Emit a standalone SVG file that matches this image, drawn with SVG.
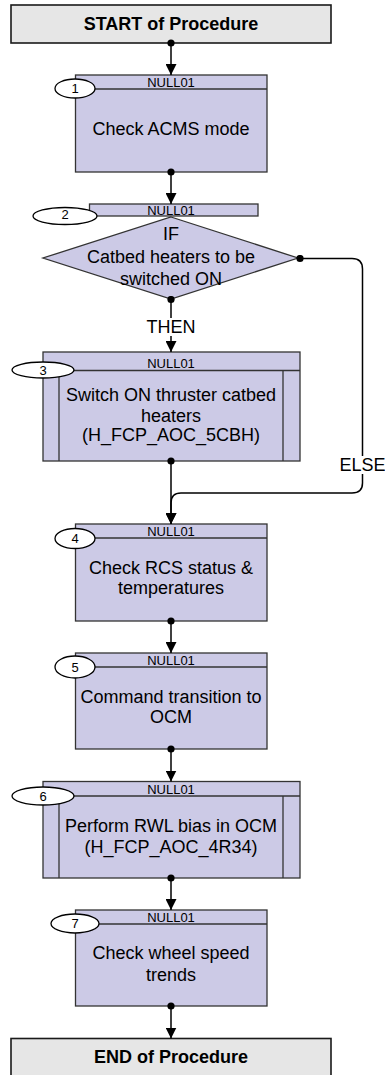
<svg xmlns="http://www.w3.org/2000/svg" width="385" height="1075" viewBox="0 0 385 1075">
<style>
text{font-family:"Liberation Sans",Arial,sans-serif;fill:#000}
.term{fill:#e6e6e6;stroke:#1a1a1a;stroke-width:1.6}
.tt{font-size:18px;font-weight:bold;text-anchor:middle}
.box{fill:#cccae6;stroke:#333;stroke-width:1.3}
.ln{fill:none;stroke:#333;stroke-width:1.3}
.hd{font-size:13px;text-anchor:middle}
.lab{font-size:18px;text-anchor:middle}
.ov{fill:#fff;stroke:#000;stroke-width:1.3}
.num{font-size:13px;text-anchor:middle}
.con{fill:none;stroke:#000;stroke-width:1.5;marker-start:url(#dot);marker-end:url(#arr)}
</style>
<defs>
<marker id="arr" markerUnits="userSpaceOnUse" markerWidth="11" markerHeight="11" refX="10" refY="5" orient="auto" viewBox="0 0 10 10"><path d="M0,0 L10,5 L0,10 z" fill="#000"/></marker>
<marker id="dot" markerUnits="userSpaceOnUse" markerWidth="8" markerHeight="8" refX="4" refY="4" viewBox="0 0 8 8"><circle cx="4" cy="4" r="3.6" fill="#000"/></marker>
</defs>
<rect width="385" height="1075" fill="#fff"/>

<g id="start">
<rect class="term" x="11" y="5" width="320" height="38"/>
<text class="tt" x="171" y="29.5">START of Procedure</text>
</g>

<g id="step1">
<rect class="box" x="75.5" y="75" width="191.5" height="97"/>
<line class="ln" x1="75.5" y1="89" x2="267" y2="89"/>
<text class="hd" x="171" y="87">NULL01</text>
<ellipse class="ov" cx="75" cy="88.5" rx="20" ry="9.5"/>
<text class="num" x="75" y="93">1</text>
<text class="lab" x="171" y="135">Check ACMS mode</text>
</g>

<g id="step2">
<polygon class="box" points="171,217 298,258 171,299 43,258"/>
<rect class="box" x="89.5" y="204" width="168.5" height="12"/>
<text class="hd" x="171" y="215">NULL01</text>
<ellipse class="ov" cx="65" cy="216" rx="32" ry="8.5"/>
<text class="num" x="65" y="219">2</text>
<text class="lab" x="171" y="240">IF</text>
<text class="lab" x="171" y="263">Catbed heaters to be</text>
<text class="lab" x="171" y="285">switched ON</text>
</g>

<g id="step3">
<rect class="box" x="43" y="352" width="257" height="109"/>
<line class="ln" x1="43" y1="370.5" x2="300" y2="370.5"/>
<line class="ln" x1="59" y1="370.5" x2="59" y2="461"/>
<line class="ln" x1="283" y1="370.5" x2="283" y2="461"/>
<text class="hd" x="171" y="368">NULL01</text>
<ellipse class="ov" cx="43" cy="370" rx="31" ry="8"/>
<text class="num" x="43" y="374.5">3</text>
<text class="lab" x="171" y="401">Switch ON thruster catbed</text>
<text class="lab" x="171" y="422">heaters</text>
<text class="lab" x="171" y="441">(H_FCP_AOC_5CBH)</text>
</g>

<g id="step4">
<rect class="box" x="75.5" y="524" width="191.5" height="97"/>
<line class="ln" x1="75.5" y1="538" x2="267" y2="538"/>
<text class="hd" x="171" y="536">NULL01</text>
<ellipse class="ov" cx="75" cy="538.5" rx="20" ry="10"/>
<text class="num" x="75" y="543">4</text>
<text class="lab" x="171" y="574">Check RCS status &amp;</text>
<text class="lab" x="171" y="594">temperatures</text>
</g>

<g id="step5">
<rect class="box" x="75.5" y="653" width="191.5" height="96"/>
<line class="ln" x1="75.5" y1="667" x2="267" y2="667"/>
<text class="hd" x="171" y="665">NULL01</text>
<ellipse class="ov" cx="75" cy="667" rx="20" ry="11"/>
<text class="num" x="75" y="671.5">5</text>
<text class="lab" x="171" y="703">Command transition to</text>
<text class="lab" x="171" y="723">OCM</text>
</g>

<g id="step6">
<rect class="box" x="43" y="781.5" width="257" height="96.5"/>
<line class="ln" x1="43" y1="796" x2="300" y2="796"/>
<line class="ln" x1="59" y1="796" x2="59" y2="878"/>
<line class="ln" x1="283" y1="796" x2="283" y2="878"/>
<text class="hd" x="171" y="794">NULL01</text>
<ellipse class="ov" cx="43" cy="796" rx="31" ry="9"/>
<text class="num" x="43" y="800.5">6</text>
<text class="lab" x="171" y="832">Perform RWL bias in OCM</text>
<text class="lab" x="171" y="853">(H_FCP_AOC_4R34)</text>
</g>

<g id="step7">
<rect class="box" x="75.5" y="910" width="191.5" height="96"/>
<line class="ln" x1="75.5" y1="924" x2="267" y2="924"/>
<text class="hd" x="171" y="922">NULL01</text>
<ellipse class="ov" cx="75" cy="923.5" rx="24" ry="9.5"/>
<text class="num" x="75" y="928">7</text>
<text class="lab" x="171" y="959">Check wheel speed</text>
<text class="lab" x="171" y="981">trends</text>
</g>

<g id="end">
<rect class="term" x="11" y="1038.5" width="320" height="45"/>
<text class="tt" x="171" y="1063">END of Procedure</text>
</g>

<g id="connectors">
<path class="con" d="M171,43 L171,75"/>
<path class="con" d="M171,172 L171,204"/>
<path class="con" d="M171,299.5 L171,352"/>
<path class="con" d="M300,258.5 L352,258.5 Q362.5,258.5 362.5,269 L362.5,483 Q362.5,493 352,493 L181,493 Q171,493 171,503 L171,524"/>
<path class="con" d="M171,461 L171,524"/>
<path class="con" d="M171,621 L171,653"/>
<path class="con" d="M171,749 L171,781.5"/>
<path class="con" d="M171,878 L171,910"/>
<path class="con" d="M171,1006 L171,1038.5"/>
<rect x="149" y="318" width="44" height="18" fill="#fff"/>
<text class="lab" x="171" y="333">THEN</text>
<rect x="340" y="456" width="45" height="18" fill="#fff"/>
<text class="lab" x="362.5" y="471">ELSE</text>
</g>
</svg>
